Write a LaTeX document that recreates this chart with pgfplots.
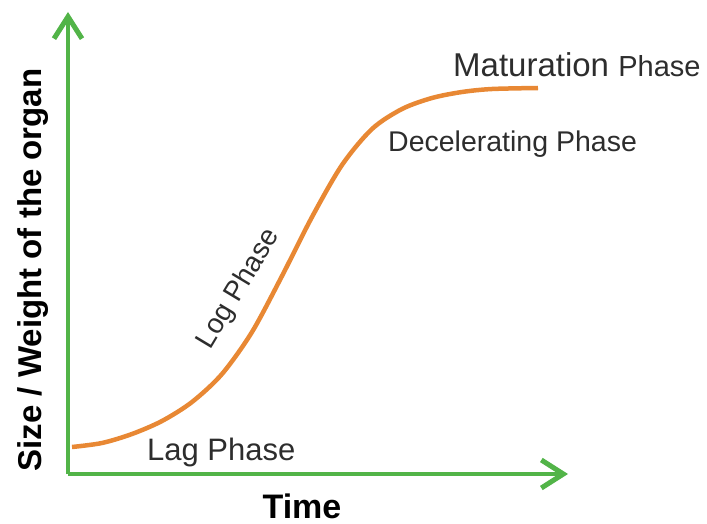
\documentclass[border=0pt]{standalone}
\usepackage{pgfplots}
\pgfplotsset{compat=1.18}
\usetikzlibrary{arrows.meta}
\usepackage{fontspec}
\setmainfont{Liberation Sans}
\definecolor{axgreen}{RGB}{82,180,72}
\definecolor{curveor}{RGB}{232,136,52}
\definecolor{txt}{RGB}{45,45,45}
\begin{document}
\begin{tikzpicture}
\useasboundingbox (0,0) rectangle (707pt,523pt);
\begin{axis}[
  at={(68pt,49pt)}, anchor=origin,
  scale only axis, width=500pt, height=462pt,
  xmin=0, xmax=500, ymin=0, ymax=462,
  axis lines=left,
  xtick=\empty, ytick=\empty,
  clip=false,
  axis line style={axgreen, line width=4.5pt, -{Straight Barb[length=22pt,width=28pt,line width=5pt]}},
]
\addplot[smooth, tension=0.5, curveor, line width=4.5pt] coordinates {
(4,27) (34,31) (64,40) (94,53) (124,72) (154,100) (184,142) (214,198) (244,257) (274,309) (304,345) (334,365) (364,376) (394,382) (424,385) (470,386)
};
\node[anchor=base west, text=txt, font=\fontsize{31}{37}\selectfont, inner sep=0pt] at (axis cs:79,14) {Lag Phase};
\node[anchor=base, text=black, font=\bfseries\fontsize{34}{40}\selectfont, inner sep=0pt] at (axis cs:234,-44) {Time};
\node[anchor=base west, text=txt, inner sep=0pt] at (axis cs:385,397) {{\fontsize{33}{40}\selectfont Maturation }{\fontsize{29}{35}\selectfont Phase}};
\node[anchor=base west, text=txt, font=\fontsize{28.5}{34}\selectfont, inner sep=0pt] at (axis cs:320,322) {Decelerating Phase};
\node[anchor=center, rotate=59, text=txt, font=\fontsize{28}{34}\selectfont, inner sep=0pt] at (axis cs:171,185) {Log Phase};
\node[anchor=base, rotate=90, text=black, font=\bfseries\fontsize{33}{40}\selectfont, inner sep=0pt] at (axis cs:-27,204) {Size / Weight of the organ};
\end{axis}
\end{tikzpicture}
\end{document}
